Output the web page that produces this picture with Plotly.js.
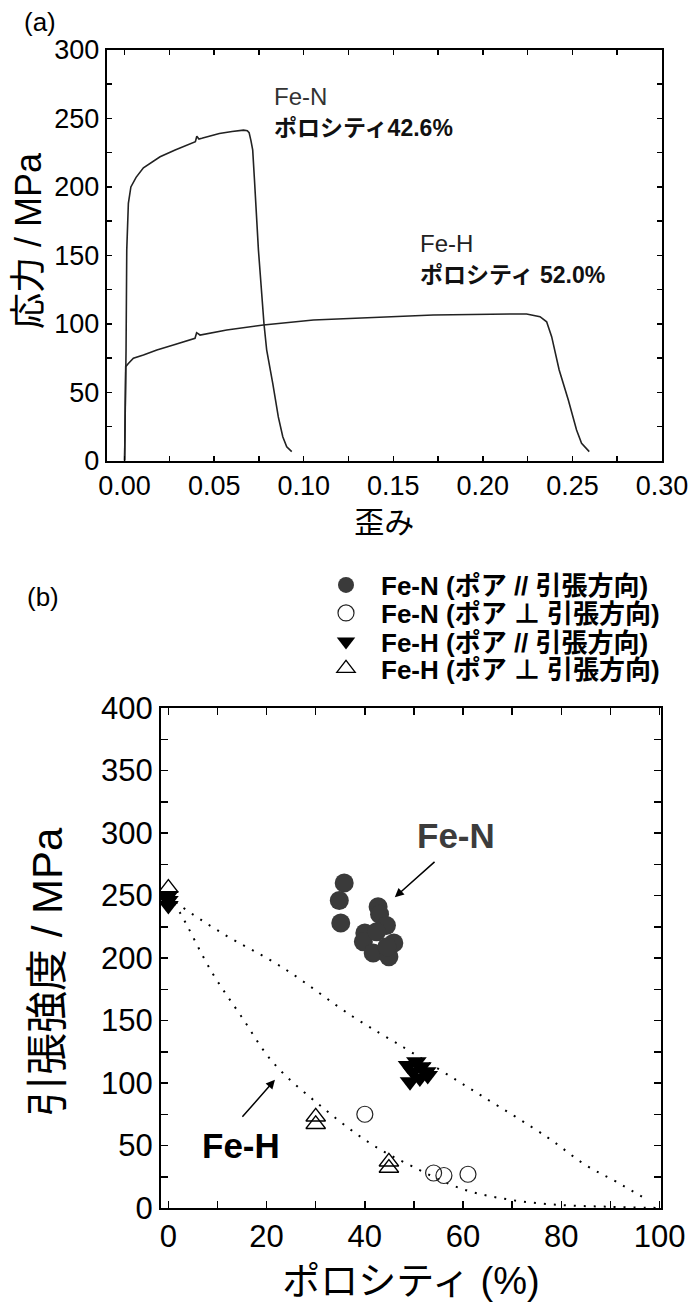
<!DOCTYPE html>
<html>
<head>
<meta charset="utf-8">
<script src="https://cdn.plot.ly/plotly-3.0.1.min.js"></script>
<style>html,body{margin:0;padding:0;background:#fff;}#chart{width:688px;height:1305px;}</style>
</head>
<body>
<div id="chart"></div>
<script>
// ---- (a) stress-strain curves ----
const strainFeN = [0.0, 0.0006, 0.0008, 0.0012, 0.0021, 0.0035, 0.0064, 0.0105, 0.0150, 0.0198, 0.0282, 0.0350, 0.0395, 0.0403, 0.0415, 0.0431, 0.0529, 0.0600, 0.0664, 0.0685, 0.0695, 0.0705, 0.0715, 0.0725, 0.0747, 0.0778, 0.0793, 0.0827, 0.0858, 0.0883, 0.0905, 0.0933];
const stressFeN = [0, 40, 81, 154, 188, 200, 207, 214, 218, 222, 227, 230.5, 233, 237, 235, 235.5, 239, 240.5, 241.5, 241, 239.6, 234, 227, 205, 154, 100, 81, 56.5, 32, 17.5, 10.2, 6.6];
const strainFeH = [0.0, 0.0003, 0.0006, 0.0021, 0.0049, 0.0105, 0.0180, 0.0272, 0.0393, 0.0402, 0.0421, 0.0570, 0.0775, 0.1054, 0.1258, 0.1537, 0.1723, 0.2189, 0.2244, 0.2319, 0.2356, 0.2384, 0.2426, 0.2477, 0.2523, 0.2551, 0.2594];
const stressFeH = [0, 40, 68.7, 71, 74.8, 77.2, 80.9, 84.5, 89.4, 93.5, 91.8, 95.5, 99.1, 102.8, 104, 105.7, 106.4, 107.2, 107.2, 105.2, 101.5, 90.6, 66.3, 44.3, 22.4, 12.7, 6.6];

// ---- (b) tensile strength vs porosity ----
const porFeNpar = [35.8, 34.8, 35.1, 42.7, 43.0, 44.4, 40.0, 39.7, 42.4, 41.7, 44.9, 45.9, 44.5];
const utsFeNpar = [260, 246, 228, 241, 235, 226, 220, 213, 221, 204, 201, 212, 209];
const porFeNperp = [40.0, 54.0, 56.1, 61.0];
const utsFeNperp = [75, 28, 26, 27];
const porFeHpar = [0, 0, 0, 48.8, 50.5, 51.5, 52.5, 51.2, 49.2, 49.8, 52.8];
const utsFeHpar = [250, 246, 242, 114, 117, 113, 109, 104, 101, 109, 106];
const porFeHperp = [0, 30.0, 30.0, 44.9, 44.9];
const utsFeHperp = [256, 73, 67, 37, 32];

// dotted guide curves
const porGuideUpper = [0, 2.4, 10.9, 23.4, 37.6, 48.1, 55.9, 64.1, 77.0, 85.1, 91.2, 97.7];
const utsGuideUpper = [250, 242, 220, 192, 153, 128, 109, 89, 57, 34, 21, 6];
const porGuideLower = [0, 2.4, 8.8, 14.9, 21.4, 30.9, 41.0, 49.8, 60.0, 69.9, 79.8, 89.7, 100];
const utsGuideLower = [250, 236, 189, 153, 116, 82, 52, 33, 15, 6.4, 2.4, 1, 0];

const legendNames = [
  'Fe-N (ポア // 引張方向)',
  'Fe-N (ポア ⊥ 引張方向)',
  'Fe-H (ポア // 引張方向)',
  'Fe-H (ポア ⊥ 引張方向)'
];

const FONT = 'Liberation Sans, Arial, Noto Sans CJK JP, sans-serif';
const CJK = 'Liberation Sans, Arial, Noto Sans CJK JP, sans-serif';

const traces = [
  {x: strainFeN, y: stressFeN, xaxis: 'x', yaxis: 'y', mode: 'lines', line: {color: '#222', width: 1.6}, showlegend: false, hoverinfo: 'skip'},
  {x: strainFeH, y: stressFeH, xaxis: 'x', yaxis: 'y', mode: 'lines', line: {color: '#222', width: 1.6}, showlegend: false, hoverinfo: 'skip'},
  {x: porGuideUpper, y: utsGuideUpper, xaxis: 'x2', yaxis: 'y2', mode: 'lines', line: {color: '#000', width: 2, dash: '2px,8px', shape: 'spline'}, showlegend: false},
  {x: porGuideLower, y: utsGuideLower, xaxis: 'x2', yaxis: 'y2', mode: 'lines', line: {color: '#000', width: 2, dash: '2px,8px', shape: 'spline'}, showlegend: false},
  {x: porFeNpar, y: utsFeNpar, xaxis: 'x2', yaxis: 'y2', mode: 'markers', name: legendNames[0], legend: 'legend',
   marker: {symbol: 'circle', size: 19, color: '#3a3a3a', line: {width: 0}}},
  {x: porFeNperp, y: utsFeNperp, xaxis: 'x2', yaxis: 'y2', mode: 'markers', name: legendNames[1], legend: 'legend2',
   marker: {symbol: 'circle-open', size: 16, color: '#222', line: {width: 1.2}}},
  {x: porFeHpar, y: utsFeHpar, xaxis: 'x2', yaxis: 'y2', mode: 'markers', name: legendNames[2], legend: 'legend3',
   marker: {symbol: 'triangle-down', size: 18, color: '#000', line: {width: 0}}},
  {x: porFeHperp, y: utsFeHperp, xaxis: 'x2', yaxis: 'y2', mode: 'markers', name: legendNames[3], legend: 'legend4',
   marker: {symbol: 'triangle-up-open', size: 17, color: '#000', line: {width: 1.3}}}
];

function axisBase(fs) {
  return {
    showgrid: false, zeroline: false, showline: true, linecolor: '#000', linewidth: 2,
    mirror: 'allticks', ticks: 'inside', tickcolor: '#000', tickwidth: 1.5,
    ticklabeloverflow: 'allow',
    tickfont: {family: FONT, size: fs, color: '#000'}
  };
}

function legendAt(yPix) {
  return {
    x: 311 / 688, xanchor: 'left', y: 1 - yPix / 1305, yanchor: 'middle',
    bgcolor: 'rgba(0,0,0,0)', borderwidth: 0, itemwidth: 60,
    font: {family: CJK, size: 26, color: '#000', weight: 'bold'}
  };
}

const layout = {
  width: 688, height: 1305,
  margin: {l: 0, r: 0, t: 0, b: 0},
  paper_bgcolor: '#fff', plot_bgcolor: '#fff',
  showlegend: true,
  xaxis: Object.assign(axisBase(27), {
    domain: [106.7 / 688, 662 / 688], anchor: 'y', range: [-0.01, 0.30],
    tick0: 0, dtick: 0.05, tickformat: '.2f', ticklen: 5,
    minor: {dtick: 0.025, ticks: 'inside', ticklen: 5, tickcolor: '#000', tickwidth: 1.5},
    title: {text: '歪み', font: {family: CJK, size: 30, color: '#000'}, standoff: 12}
  }),
  yaxis: Object.assign(axisBase(27), {
    domain: [1 - 460.7 / 1305, 1 - 50 / 1305], anchor: 'x', range: [0, 300],
    tick0: 0, dtick: 50, ticklen: 5,
    minor: {dtick: 25, ticks: 'inside', ticklen: 5, tickcolor: '#000', tickwidth: 1.5}
  }),
  xaxis2: Object.assign(axisBase(31), {
    domain: [161 / 688, 661 / 688], anchor: 'y2', range: [-1.5, 100.3],
    tick0: 0, dtick: 20, ticklen: 7,
    minor: {dtick: 10, ticks: 'inside', ticklen: 7, tickcolor: '#000', tickwidth: 1.5},
    title: {text: 'ポロシティ (%)', font: {family: CJK, size: 38, color: '#000'}, standoff: 14}
  }),
  yaxis2: Object.assign(axisBase(31), {
    domain: [1 - 1208 / 1305, 1 - 708 / 1305], anchor: 'x2', range: [0, 400],
    tick0: 0, dtick: 50, ticklen: 7,
    minor: {dtick: 25, ticks: 'inside', ticklen: 7, tickcolor: '#000', tickwidth: 1.5}
  }),
  legend: legendAt(585),
  legend2: legendAt(613),
  legend3: legendAt(641.5),
  legend4: legendAt(668.5),
  annotations: [
    {xref: 'paper', yref: 'paper', x: 28 / 688, y: 1 - 241 / 1305, text: '応力 / MPa', textangle: -90, showarrow: false,
     xanchor: 'center', yanchor: 'middle', font: {family: CJK, size: 36, color: '#000'}},
    {xref: 'paper', yref: 'paper', x: 47 / 688, y: 1 - 972 / 1305, text: '引張強度 / MPa', textangle: -90, showarrow: false,
     xanchor: 'center', yanchor: 'middle', font: {family: CJK, size: 42, color: '#000'}},
    {xref: 'paper', yref: 'paper', x: 40 / 688, y: 1 - 22 / 1305, text: '(a)', showarrow: false,
     xanchor: 'center', yanchor: 'middle', font: {family: FONT, size: 26, color: '#000'}},
    {xref: 'paper', yref: 'paper', x: 43 / 688, y: 1 - 597 / 1305, text: '(b)', showarrow: false,
     xanchor: 'center', yanchor: 'middle', font: {family: FONT, size: 26, color: '#000'}},
    {xref: 'x', yref: 'y', x: 0.0823, y: 266, text: 'Fe-N', showarrow: false, xanchor: 'left', yanchor: 'middle',
     font: {family: FONT, size: 24, color: '#333'}},
    {xref: 'x', yref: 'y', x: 0.0823, y: 243, text: '<b>ポロシティ42.6%</b>', showarrow: false, xanchor: 'left', yanchor: 'middle',
     font: {family: CJK, size: 23, color: '#111'}},
    {xref: 'x', yref: 'y', x: 0.1638, y: 159, text: 'Fe-H', showarrow: false, xanchor: 'left', yanchor: 'middle',
     font: {family: FONT, size: 24, color: '#222'}},
    {xref: 'x', yref: 'y', x: 0.1638, y: 135.5, text: '<b>ポロシティ 52.0%</b>', showarrow: false, xanchor: 'left', yanchor: 'middle',
     font: {family: CJK, size: 23, color: '#111'}},
    {xref: 'x2', yref: 'y2', x: 58.6, y: 298, text: '<b>Fe-N</b>', showarrow: false, xanchor: 'center', yanchor: 'middle',
     font: {family: FONT, size: 35, color: '#3c3c3c'}},
    {xref: 'x2', yref: 'y2', axref: 'x2', ayref: 'y2', x: 46.1, y: 248.6, ax: 54.5, ay: 278, text: '', showarrow: true,
     arrowhead: 2, arrowsize: 1.2, arrowwidth: 1.5, arrowcolor: '#000'},
    {xref: 'x2', yref: 'y2', x: 14.7, y: 49.8, text: '<b>Fe-H</b>', showarrow: false, xanchor: 'center', yanchor: 'middle',
     font: {family: FONT, size: 35, color: '#000'}},
    {xref: 'x2', yref: 'y2', axref: 'x2', ayref: 'y2', x: 21.7, y: 102.6, ax: 14.8, ay: 71.8, text: '', showarrow: true,
     arrowhead: 2, arrowsize: 1.2, arrowwidth: 1.5, arrowcolor: '#000'}
  ]
};

Plotly.newPlot('chart', traces, layout, {staticPlot: true, displayModeBar: false});
</script>
</body>
</html>
